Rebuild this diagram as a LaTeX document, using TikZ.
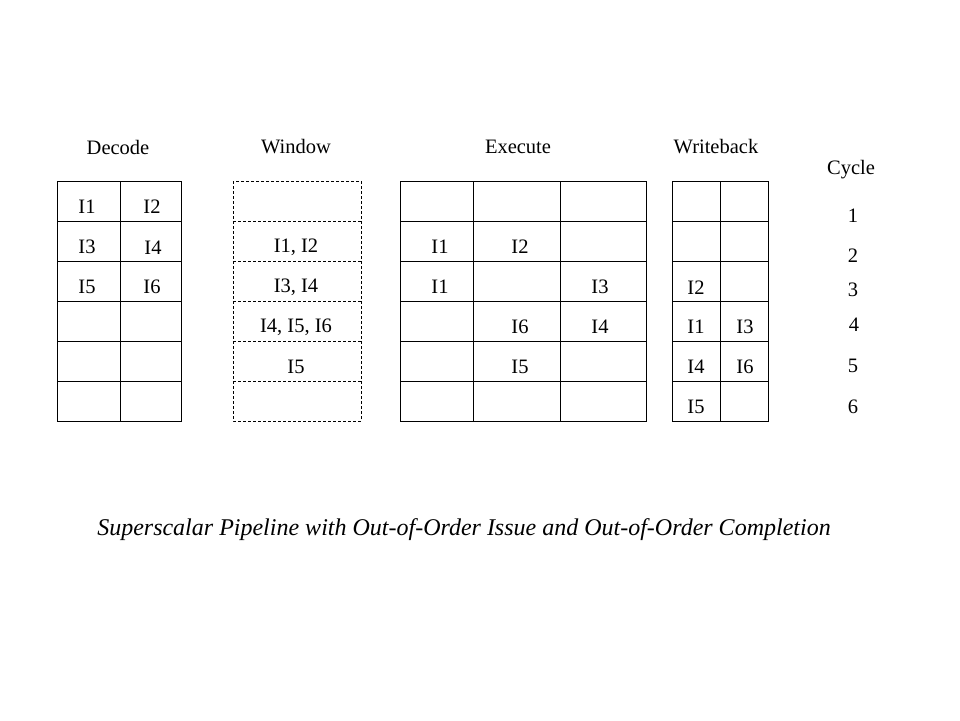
\documentclass[tikz,border=0pt]{standalone}
\usepackage{fontspec}
\setmainfont{Liberation Serif}
\begin{document}
\begin{tikzpicture}[x=1pt,y=-1pt,
  lbl/.style={inner sep=0pt,font=\fontsize{20.5}{23}\selectfont},
  grid/.style={draw=black,line width=0.9pt},
  dgrid/.style={draw=black,line width=0.8pt,dash pattern=on 3pt off 2pt}]
\useasboundingbox (0,0) rectangle (960,720);
% Decode
\draw[grid] (57,181) rectangle (181,421);
\draw[grid] (120,181) -- (120,421);
\foreach \y in {221,261,301,341,381} \draw[grid] (57,\y) -- (181,\y);
% Window
\draw[dgrid] (233,181) rectangle (361,421);
\foreach \y in {221,261,301,341,381} \draw[dgrid] (233,\y) -- (361,\y);
% Execute
\draw[grid] (400,181) rectangle (646,421);
\draw[grid] (473,181) -- (473,421);
\draw[grid] (560,181) -- (560,421);
\foreach \y in {221,261,301,341,381} \draw[grid] (400,\y) -- (646,\y);
% Writeback
\draw[grid] (672,181) rectangle (768,421);
\draw[grid] (720,181) -- (720,421);
\foreach \y in {221,261,301,341,381} \draw[grid] (672,\y) -- (768,\y);
% headers
\node[lbl] (hd) at (118,147) {Decode};
\node[lbl] (hw) at (296,147) {Window};
\node[lbl] (he) at (518,147) {Execute};
\node[lbl] (hb) at (716,147) {Writeback};
\node[lbl] (hc) at (851,170) {Cycle};
% decode
\node[lbl] (d1) at (87,207) {I1};
\node[lbl] (d2) at (152,207) {I2};
\node[lbl] (d3) at (87,247) {I3};
\node[lbl] (d4) at (153,248) {I4};
\node[lbl] (d5) at (87,287) {I5};
\node[lbl] (d6) at (152,287) {I6};
% window
\node[lbl] (w1) at (296,247) {I1, I2};
\node[lbl] (w2) at (296,287) {I3, I4};
\node[lbl] (w3) at (296,327) {I4, I5, I6};
\node[lbl] (w4) at (296,367) {I5};
% execute
\node[lbl] (e1) at (440,247) {I1};
\node[lbl] (e2) at (520,247) {I2};
\node[lbl] (e3) at (440,287) {I1};
\node[lbl] (e4) at (600,287) {I3};
\node[lbl] (e5) at (520,327) {I6};
\node[lbl] (e6) at (600,327) {I4};
\node[lbl] (e7) at (520,367) {I5};
% writeback
\node[lbl] (b1) at (696,288) {I2};
\node[lbl] (b2) at (696,327) {I1};
\node[lbl] (b3) at (745,327) {I3};
\node[lbl] (b4) at (696,367) {I4};
\node[lbl] (b5) at (745,367) {I6};
\node[lbl] (b6) at (696,407) {I5};
% cycles
\node[lbl] (c1) at (853,216) {1};
\node[lbl] (c2) at (853,256) {2};
\node[lbl] (c3) at (853,290) {3};
\node[lbl] (c4) at (854,325) {4};
\node[lbl] (c5) at (853,366) {5};
\node[lbl] (c6) at (853,407) {6};
\node[inner sep=0pt,font=\fontsize{24}{28}\selectfont\itshape] (cap) at (464,530) {Superscalar Pipeline with Out-of-Order Issue and Out-of-Order Completion};
\end{tikzpicture}
\end{document}
